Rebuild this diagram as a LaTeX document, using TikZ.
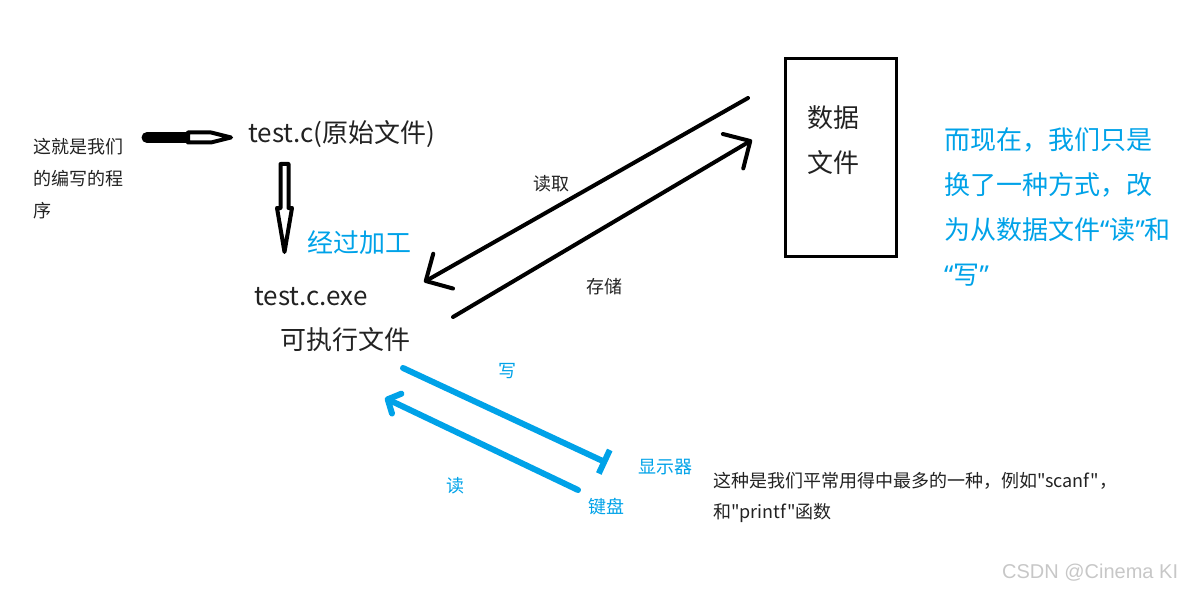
\documentclass[tikz,border=0pt]{standalone}
\usepackage{fontspec}
\setmainfont{Noto Sans CJK SC}[Ligatures=TeXOff]
\newfontfamily\qfont{Noto Sans}
\newfontfamily\wmfont{Liberation Sans}
\usepackage{xcolor}
\usepackage{tikz}
\usetikzlibrary{arrows.meta, calc}
\definecolor{paintblue}{RGB}{0,162,232}
\definecolor{inkgray}{RGB}{34,34,34}
\tikzstyle{arrow}    = [line width=4pt, line cap=round, -{Straight Barb[length=20pt,width=40pt,round]}]
\tikzstyle{barrow}   = [paintblue, line width=6pt, line cap=round, -{Straight Barb[length=10pt,width=22pt,round]}]
\tikzstyle{barbar}   = [paintblue, line width=6pt, line cap=round, -{Bar[width=26pt]}]
\tikzstyle{hollow}   = [draw=black, fill=white, line width=4pt, line join=round]
\tikzstyle{bigtxt}   = [font=\fontsize{26}{44}\selectfont]
\tikzstyle{smalltxt} = [font=\fontsize{18}{32}\selectfont]
\tikzset{every node/.style={align=left, inner sep=0pt, text=inkgray}}

\begin{document}
\begin{tikzpicture}[x=1pt, y=-1pt]
    \useasboundingbox (0,0) rectangle (1189,591);

    % left part (multi-line nodes sit on their last baseline)
    \node (prog)    at (33,217)  [smalltxt, anchor=base west] {这就是我们\\的编写的程\\序};
    \node (testc)   at (248,143) [bigtxt, anchor=base west] {test.c(原始文件)};
    \node (work)    at (307,252) [bigtxt, anchor=base west, text=paintblue] {经过加工};
    \node (exe)     at (254,305) [bigtxt, anchor=base west] {test.c.exe};
    \node (exefile) at (280,349) [bigtxt, anchor=base west] {可执行文件};

    % data file
    \node (data)    at (841,157.5) [draw, line width=3.5pt, minimum width=111pt, minimum height=198pt] {};
    \node (datatxt) at (807,172) [bigtxt, anchor=base west] {数据\\文件};

    % right remark
    \node (remark)  at (944,284) [font=\fontsize{26}{45}\selectfont, anchor=base west, text=paintblue]
        {而现在，我们只是\\换了一种方式，改\\为从数据文件{\qfont “}读{\qfont ”}和\\{\qfont “}写{\qfont ”}};

    % console
    \node (disp)    at (638,473) [smalltxt, anchor=base west, text=paintblue] {显示器};
    \node (keyb)    at (588,513) [smalltxt, anchor=base west, text=paintblue] {键盘};
    \node (common)  at (713,518) [font=\fontsize{18}{31}\selectfont, anchor=base west]
        {这种是我们平常用得中最多的一种，例如"scanf"，\\和"printf"函数};

    \node (mark)    at (1002,578) [font=\wmfont\fontsize{20}{24}\selectfont, anchor=base west, text=black!22] {CSDN @Cinema KI};

    % hollow arrows
    \coordinate (hA) at (147,137.5);
    \coordinate (hB) at (231,137.5);
    \draw [line width=11pt, line cap=round] (hA) -- ($(hB)+(-40,0)$);
    \draw [hollow] ($(hB)+(-43,-5)$) -- ($(hB)+(-20,-5)$) -- (hB) -- ($(hB)+(-20,5)$) -- ($(hB)+(-43,5)$) -- cycle;

    \coordinate (vA) at (284.5,164);
    \coordinate (vB) at (284.5,252);
    \draw [hollow] ($(vA)+(-4,0)$) -- ($(vB)+(-4,-44)$) -- ($(vB)+(-7.5,-44)$) -- (vB)
        -- ($(vB)+(7.5,-44)$) -- ($(vB)+(4,-44)$) -- ($(vA)+(4,0)$) -- cycle;

    % file read / store
    \coordinate (rdA) at (748,98);
    \coordinate (rdB) at (424,282);
    \coordinate (stA) at (453,317);
    \coordinate (stB) at (752,140);
    \draw [arrow] (rdA) -- node (lread)[pos=0.605, above=15pt, smalltxt]{读取} (rdB);
    \draw [arrow] (stA) -- node (lstore)[pos=0.508, below=49pt, smalltxt]{存储} (stB);

    % console write / read
    \coordinate (wrA) at (403,368);
    \coordinate (wrB) at (607,463);
    \coordinate (kbA) at (578,490);
    \coordinate (kbB) at (385,398);
    \draw [barbar] (wrA) -- node (lwrite)[pos=0.51, above=35pt, smalltxt, text=paintblue]{写} (wrB);
    \draw [barrow] (kbA) -- node (lkread)[pos=0.637, below=43pt, smalltxt, text=paintblue]{读} (kbB);
\end{tikzpicture}
\end{document}
